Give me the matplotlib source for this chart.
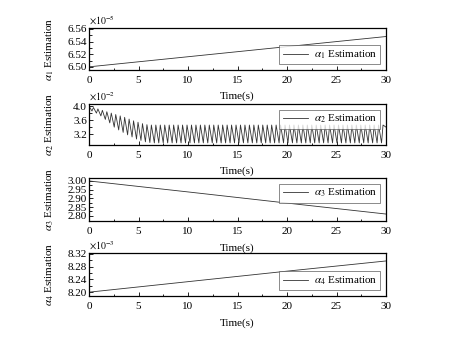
import numpy as np
import matplotlib
matplotlib.use("Agg")
import matplotlib.pyplot as plt

plt.rcParams['font.family'] = ['Liberation Serif', 'DejaVu Serif']
plt.rcParams['mathtext.fontset'] = 'stix'
plt.rcParams['font.size'] = 7.5

# ---- data (values in displayed units, exponent shown separately) ----
t_a1 = [0, 10, 20, 30]
a1 = [6.500, 6.516, 6.532, 6.548]          # x1e-5

t_a3 = [0, 10, 20, 30]
a3 = [3.000, 2.937, 2.873, 2.810]

t_a4 = [0, 10, 20, 30]
a4 = [8.200, 8.233, 8.266, 8.298]          # x1e-3

# alpha_2 oscillation: peaks and troughs  (x1e-2)
a2_peak_t = [0.00, 0.45, 0.90, 1.35, 1.80, 2.25, 2.70, 3.15, 3.60, 4.05, 4.50, 4.95,
             5.40, 5.85, 6.30, 6.75, 7.20, 7.65, 8.10, 8.55, 9.00, 9.45, 9.90, 10.35,
             10.80, 11.25, 11.70, 12.15, 12.60, 13.05, 13.50, 13.95, 14.40, 14.85, 15.30,
             15.75, 16.20, 16.65, 17.10, 17.55, 18.00, 18.45, 18.90, 19.35, 19.80, 20.25,
             20.70, 21.15, 21.60, 22.05, 22.50, 22.95, 23.40, 23.85, 24.30, 24.75, 25.20,
             25.65, 26.10, 26.55, 27.00, 27.45, 27.90, 28.35, 28.80, 29.25, 29.70]
a2_peak = [4.00, 3.96, 3.92, 3.88, 3.84, 3.80, 3.76, 3.72, 3.68, 3.63, 3.58, 3.54,
           3.50, 3.47, 3.46, 3.46, 3.46, 3.46, 3.46, 3.46, 3.46, 3.46, 3.46, 3.46,
           3.46, 3.46, 3.46, 3.46, 3.46, 3.46, 3.46, 3.46, 3.46, 3.46, 3.46,
           3.46, 3.46, 3.46, 3.46, 3.46, 3.46, 3.46, 3.46, 3.46, 3.46, 3.46,
           3.46, 3.46, 3.46, 3.46, 3.46, 3.46, 3.46, 3.46, 3.46, 3.46, 3.46,
           3.46, 3.46, 3.46, 3.46, 3.46, 3.46, 3.46, 3.46, 3.46, 3.46]
a2_trough_t = [0.30, 0.75, 1.20, 1.65, 2.10, 2.55, 3.00, 3.45, 3.90, 4.35, 4.80, 5.25,
               5.70, 6.15, 6.60, 7.05, 7.50, 7.95, 8.40, 8.85, 9.30, 9.75, 10.20, 10.65,
               11.10, 11.55, 12.00, 12.45, 12.90, 13.35, 13.80, 14.25, 14.70, 15.15, 15.60,
               16.05, 16.50, 16.95, 17.40, 17.85, 18.30, 18.75, 19.20, 19.65, 20.10, 20.55,
               21.00, 21.45, 21.90, 22.35, 22.80, 23.25, 23.70, 24.15, 24.60, 25.05, 25.50,
               25.95, 26.40, 26.85, 27.30, 27.75, 28.20, 28.65, 29.10, 29.55, 30.00]
a2_trough = [3.86, 3.80, 3.72, 3.62, 3.52, 3.40, 3.32, 3.25, 3.18, 3.12, 3.06, 3.02,
             2.98, 2.96, 2.95, 2.95, 2.95, 2.95, 2.95, 2.95, 2.95, 2.95, 2.95, 2.95,
             2.95, 2.95, 2.95, 2.95, 2.95, 2.95, 2.95, 2.95, 2.95, 2.95, 2.95,
             2.95, 2.95, 2.95, 2.95, 2.95, 2.95, 2.95, 2.95, 2.95, 2.95, 2.95,
             2.95, 2.95, 2.95, 2.95, 2.95, 2.95, 2.95, 2.95, 2.95, 2.95, 2.95,
             2.95, 2.95, 2.95, 2.95, 2.95, 2.95, 2.95, 2.95, 2.95, 3.40]

t2 = np.empty(len(a2_peak_t) + len(a2_trough_t))
a2 = np.empty_like(t2)
t2[0::2] = a2_peak_t
t2[1::2] = a2_trough_t
a2[0::2] = a2_peak
a2[1::2] = a2_trough

labels = [r'$\alpha_1$ Estimation', r'$\alpha_2$ Estimation',
          r'$\alpha_3$ Estimation', r'$\alpha_4$ Estimation']
offsets = [r'$\times10^{-5}$', r'$\times10^{-2}$', None, r'$\times10^{-3}$']
yticks = [[6.50, 6.52, 6.54, 6.56], [3.2, 3.6, 4.0],
          [2.80, 2.85, 2.90, 2.95, 3.00], [8.20, 8.24, 8.28, 8.32]]
yfmt = ['%.2f', '%.1f', '%.2f', '%.2f']
ylims = [(6.495, 6.5615), (2.89, 4.06), (2.77, 3.017), (8.188, 8.323)]
legend_loc = ['lower right', 'upper right', 'upper right', 'lower right']
xticks = [0, 5, 10, 15, 20, 25, 30]

fig = plt.figure(figsize=(4.61, 3.41), dpi=100)
x0 = 89 / 461
w = (386 - 89) / 461
rows = [(28, 70), (104, 145), (178, 221), (253, 296)]
series = [(t_a1, a1), (t2, a2), (t_a3, a3), (t_a4, a4)]

for i, ((top, bot), (tx, ty)) in enumerate(zip(rows, series)):
    ax = fig.add_axes([x0, 1 - bot / 341, w, (bot - top) / 341])
    ax.plot(tx, ty, color='#333333', lw=0.6, label=labels[i])
    ax.set_xlim(0, 30)
    ax.set_ylim(*ylims[i])
    ax.set_xticks(xticks)
    ax.set_xticks([2.5 + 5 * k for k in range(6)], minor=True)
    ax.set_yticks(yticks[i])
    ax.set_yticklabels([yfmt[i] % v for v in yticks[i]])
    yt = yticks[i]
    step = yt[1] - yt[0]
    ax.set_yticks([v + step / 2 for v in yt[:-1]], minor=True)
    ax.tick_params(which='both', direction='in', top=False, right=False,
                   labelsize=8)
    ax.tick_params(which='major', length=3, width=0.6)
    ax.tick_params(which='minor', length=1.8, width=0.6)
    ax.tick_params(axis='x', pad=4)
    ax.tick_params(axis='y', pad=1.5)
    for s in ax.spines.values():
        s.set_linewidth(0.9)
    ax.set_xlabel('Time(s)', fontsize=8)
    ax.xaxis.set_label_coords(0.5, -0.52)
    ax.set_ylabel(labels[i], fontsize=8)
    ax.yaxis.set_label_coords(-0.11, 0.5)
    if offsets[i]:
        ax.text(0.0, 1.03, offsets[i], transform=ax.transAxes, fontsize=7,
                ha='left', va='bottom')
    leg = ax.legend(loc=legend_loc[i], fontsize=8, frameon=True, fancybox=False,
                    handlelength=2.3, borderpad=0.3, handletextpad=0.5,
                    borderaxespad=0.5)
    leg.get_frame().set_edgecolor('#555555')
    leg.get_frame().set_linewidth(0.6)

fig.savefig('out.png', dpi=100)
